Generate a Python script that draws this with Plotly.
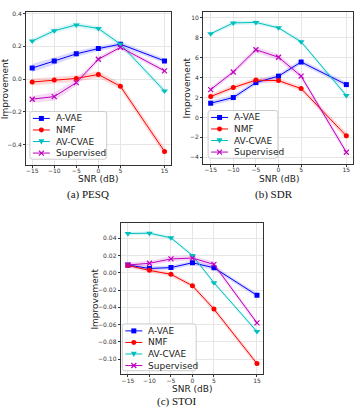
import plotly.graph_objects as go

W, H = 354, 414

snr = [-15, -10, -5, 0, 5, 15]
x_ticks = [-15, -10, -5, 0, 5, 15]
methods = ["A-VAE", "NMF", "AV-CVAE", "Supervised"]

# PESQ improvement
pesq_avae = [0.067, 0.111, 0.154, 0.186, 0.213, 0.111]
pesq_nmf = [-0.018, -0.006, 0.004, 0.028, -0.044, -0.442]
pesq_avcvae = [0.232, 0.295, 0.331, 0.309, 0.213, -0.073]
pesq_sup = [-0.123, -0.107, -0.022, 0.121, 0.194, 0.050]
pesq_err = {
    "A-VAE": [0.025, 0.022, 0.018, 0.015, 0.015, 0.015],
    "NMF": [0.022, 0.022, 0.020, 0.020, 0.020, 0.025],
    "AV-CVAE": [0.015, 0.015, 0.015, 0.015, 0.015, 0.018],
    "Supervised": [0.020, 0.025, 0.020, 0.015, 0.015, 0.015],
}

# SDR improvement
sdr_avae = [1.43, 2.0, 3.5, 4.15, 5.57, 3.3]
sdr_nmf = [2.1, 3.0, 3.75, 3.7, 2.9, -1.85]
sdr_avcvae = [8.4, 9.5, 9.55, 9.0, 7.6, 2.2]
sdr_sup = [2.8, 4.57, 6.8, 6.05, 4.15, -3.5]
sdr_err = {
    "A-VAE": [0.25, 0.25, 0.25, 0.25, 0.25, 0.25],
    "NMF": [0.25, 0.25, 0.25, 0.25, 0.25, 0.35],
    "AV-CVAE": [0.2, 0.2, 0.2, 0.2, 0.2, 0.25],
    "Supervised": [0.25, 0.25, 0.3, 0.3, 0.3, 0.3],
}

# STOI improvement
stoi_avae = [0.0089, 0.005, 0.006, 0.0116, 0.0058, -0.026]
stoi_nmf = [0.0085, 0.0028, -0.0018, -0.015, -0.042, -0.105]
stoi_avcvae = [0.0454, 0.0458, 0.0404, 0.020, -0.0115, -0.068]
stoi_sup = [0.009, 0.011, 0.016, 0.017, 0.0097, -0.058]
stoi_err = {
    "A-VAE": [0.0025, 0.0025, 0.0025, 0.0025, 0.0025, 0.0025],
    "NMF": [0.0025, 0.0025, 0.0025, 0.0025, 0.003, 0.003],
    "AV-CVAE": [0.002, 0.002, 0.002, 0.002, 0.002, 0.0025],
    "Supervised": [0.003, 0.003, 0.003, 0.003, 0.003, 0.003],
}

colors = {"A-VAE": "#0000ff", "NMF": "#ff0000", "AV-CVAE": "#00bfbf", "Supervised": "#bf00bf"}
fills = {"A-VAE": "rgba(0,0,255,0.15)", "NMF": "rgba(255,0,0,0.15)",
         "AV-CVAE": "rgba(0,191,191,0.15)", "Supervised": "rgba(191,0,191,0.15)"}
symbols = {"A-VAE": "square", "NMF": "circle", "AV-CVAE": "triangle-down", "Supervised": "x-thin"}
msize = {"A-VAE": 5, "NMF": 5, "AV-CVAE": 6, "Supervised": 5}

panels = [
    dict(name="(a) PESQ", data=[pesq_avae, pesq_nmf, pesq_avcvae, pesq_sup], err=pesq_err,
         frame=(26, 171, 10, 163.3), xr=[-16.42, 16.36], yr=[-0.522, 0.41],
         yticks=[-0.4, -0.2, 0.0, 0.2, 0.4], fmt=".1f", cap=(88, 193), ylab_x=5, xlab_y=177.5,
         leg=(30, 110, 77, 48)),
    dict(name="(b) SDR", data=[sdr_avae, sdr_nmf, sdr_avcvae, sdr_sup], err=sdr_err,
         frame=(203.7, 354, 10, 162.7), xr=[-16.67, 16.47], yr=[-4.67, 10.6],
         yticks=[-4, -2, 0, 2, 4, 6, 8, 10], fmt="d", cap=(275, 193), ylab_x=187, xlab_y=177.5,
         leg=(208.7, 109, 70, 48)),
    dict(name="(c) STOI", data=[stoi_avae, stoi_nmf, stoi_avcvae, stoi_sup], err=stoi_err,
         frame=(121, 263.7, 222.3, 374.3), xr=[-16.69, 16.39], yr=[-0.1176, 0.0573],
         yticks=[-0.10, -0.08, -0.06, -0.04, -0.02, 0.00, 0.02, 0.04], fmt=".2f", cap=(177, 401),
         ylab_x=95, xlab_y=388.5, leg=(122.7, 323.5, 74, 47)),
]

def px(x):
    return x / W

def py(y):
    return 1 - y / H

fig = go.Figure()
shapes = []
annotations = []
label_font = dict(family="DejaVu Sans", size=9, color="#222")

for i, p in enumerate(panels):
    n = "" if i == 0 else str(i + 1)
    xa, ya = "x" + n, "y" + n
    l, r, t, b = p["frame"]
    for m, vals in zip(methods, p["data"]):
        e = p["err"][m]
        up = [v + d for v, d in zip(vals, e)]
        lo = [v - d for v, d in zip(vals, e)]
        fig.add_trace(go.Scatter(x=snr + snr[::-1], y=up + lo[::-1], fill="toself",
                                 fillcolor=fills[m], line=dict(width=0), mode="lines",
                                 hoverinfo="skip", showlegend=False, xaxis=xa, yaxis=ya))
    for m, vals in zip(methods, p["data"]):
        mk = dict(symbol=symbols[m], size=msize[m], color=colors[m])
        if m == "Supervised":
            mk["line"] = dict(color=colors[m], width=1.2)
        fig.add_trace(go.Scatter(x=snr, y=vals, mode="lines+markers", name=m,
                                 line=dict(color=colors[m], width=1), marker=mk,
                                 showlegend=False, xaxis=xa, yaxis=ya))
    axcommon = dict(showline=True, linecolor="#333", linewidth=1, mirror=True,
                    showgrid=True, gridcolor="#e6e6e6", gridwidth=1, zeroline=False,
                    ticks="outside", ticklen=2, tickcolor="#333", tickwidth=1,
                    tickfont=dict(family="DejaVu Sans", size=6, color="#333"))
    fig.update_layout(**{
        "xaxis" + n: dict(domain=[px(l), min(px(r), 1)], range=p["xr"], tickvals=x_ticks,
                          anchor=ya, ticklabelstandoff=-2, **axcommon),
        "yaxis" + n: dict(domain=[py(b), py(t)], range=p["yr"], tickvals=p["yticks"],
                          tickformat=p["fmt"], anchor=xa, **axcommon),
    })
    xc = (l + r) / 2 if i != 1 else (l + 356) / 2
    annotations.append(dict(text="SNR (dB)", x=px(xc),
                            y=py(p["xlab_y"]), xref="paper", yref="paper", showarrow=False,
                            font=label_font, xanchor="center", yanchor="middle"))
    annotations.append(dict(text="Improvement", x=px(p["ylab_x"]), y=py((t + b) / 2),
                            xref="paper", yref="paper", showarrow=False, textangle=-90,
                            font=label_font, xanchor="center", yanchor="middle"))
    annotations.append(dict(text=p["name"], x=px(p["cap"][0]), y=py(p["cap"][1]),
                            xref="paper", yref="paper", showarrow=False,
                            font=dict(family="Liberation Serif, Times New Roman, serif", size=11,
                                      color="#111", weight="normal"),
                            xanchor="center", yanchor="middle"))
    bl, bt, bw, bh = p["leg"]
    rr = 2.5
    x0, x1, y0, y1 = bl, bl + bw, bt, bt + bh
    path = (f"M {px(x0+rr)},{py(y0)} L {px(x1-rr)},{py(y0)} Q {px(x1)},{py(y0)} {px(x1)},{py(y0+rr)} "
            f"L {px(x1)},{py(y1-rr)} Q {px(x1)},{py(y1)} {px(x1-rr)},{py(y1)} "
            f"L {px(x0+rr)},{py(y1)} Q {px(x0)},{py(y1)} {px(x0)},{py(y1-rr)} "
            f"L {px(x0)},{py(y0+rr)} Q {px(x0)},{py(y0)} {px(x0+rr)},{py(y0)} Z")
    shapes.append(dict(type="path", path=path, xref="paper", yref="paper",
                       fillcolor="rgba(255,255,255,0.85)", line=dict(color="#cccccc", width=1)))
    for k, m in enumerate(methods):
        yc = bt + 7 + k * 11.6
        c = colors[m]
        shapes.append(dict(type="line", x0=px(bl + 3), x1=px(bl + 20), y0=py(yc), y1=py(yc),
                           xref="paper", yref="paper", line=dict(color=c, width=1)))
        mx = bl + 11.5
        s = 2.5
        if m == "A-VAE":
            shapes.append(dict(type="rect", x0=px(mx - s), x1=px(mx + s), y0=py(yc + s), y1=py(yc - s),
                               xref="paper", yref="paper", fillcolor=c, line=dict(width=0)))
        elif m == "NMF":
            shapes.append(dict(type="circle", x0=px(mx - s), x1=px(mx + s), y0=py(yc + s), y1=py(yc - s),
                               xref="paper", yref="paper", fillcolor=c, line=dict(width=0)))
        elif m == "AV-CVAE":
            tp = f"M {px(mx-3)},{py(yc-2.2)} L {px(mx+3)},{py(yc-2.2)} L {px(mx)},{py(yc+3)} Z"
            shapes.append(dict(type="path", path=tp, xref="paper", yref="paper",
                               fillcolor=c, line=dict(width=0)))
        else:
            xp = (f"M {px(mx-2.5)},{py(yc-2.5)} L {px(mx+2.5)},{py(yc+2.5)} "
                  f"M {px(mx-2.5)},{py(yc+2.5)} L {px(mx+2.5)},{py(yc-2.5)}")
            shapes.append(dict(type="path", path=xp, xref="paper", yref="paper",
                               line=dict(color=c, width=1.2)))
        annotations.append(dict(text=m, x=px(bl + 24), y=py(yc), xref="paper", yref="paper",
                                showarrow=False, xanchor="left", yanchor="middle",
                                font=dict(family="DejaVu Sans", size=9, color="#222")))

fig.update_layout(width=W, height=H, margin=dict(l=0, r=0, t=0, b=0),
                  paper_bgcolor="white", plot_bgcolor="white", showlegend=False,
                  shapes=shapes, annotations=annotations)
fig.write_html("out.html")
